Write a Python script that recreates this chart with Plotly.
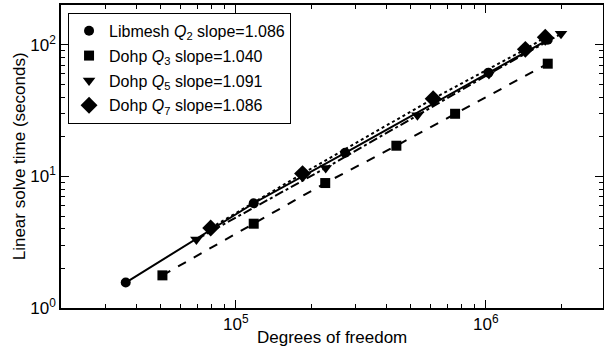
import plotly.graph_objects as go

# Libmesh Q2
lib_x = [3.63e4, 1.18e5, 2.74e5, 1.025e6, 1.77e6]
lib_y = [1.56, 6.25, 15.1, 61.4, 109]
# Dohp Q3
q3_x = [5.09e4, 1.18e5, 2.28e5, 4.39e5, 7.54e5, 1.77e6]
q3_y = [1.77, 4.37, 8.9, 17.1, 29.9, 71.8]
# Dohp Q5
q5_x = [6.96e4, 2.29e5, 5.33e5, 1.03e6, 2.0e6]
q5_y = [3.32, 11.6, 29.1, 60.0, 121]
# Dohp Q7
q7_x = [7.94e4, 1.85e5, 6.16e5, 1.44e6, 1.73e6]
q7_y = [4.05, 10.5, 38.9, 92.3, 114]

names = [
    "Libmesh <i>Q</i><sub>2</sub> slope=1.086",
    "Dohp <i>Q</i><sub>3</sub> slope=1.040",
    "Dohp <i>Q</i><sub>5</sub> slope=1.091",
    "Dohp <i>Q</i><sub>7</sub> slope=1.086",
]

x_tickvals = [1e5, 1e6]
x_ticktext = ["10<sup>5</sup>", "10<sup>6</sup>"]
y_tickvals = [1, 10, 100]
y_ticktext = ["10<sup>0</sup>", "10<sup>1</sup>", "10<sup>2</sup>"]
x_minor = [k * 10 ** e for e in (4, 5, 6) for k in range(2, 10)]
y_minor = [k * 10 ** e for e in (0, 1, 2) for k in range(2, 10)]

series = [
    (lib_x, lib_y, "circle", 10, "solid", 2),
    (q3_x, q3_y, "square", 10, "dash", 2),
    (q5_x, q5_y, "triangle-down", 11, "dashdot", 2),
    (q7_x, q7_y, "diamond", 13, "dot", 2),
]

FONT = "Liberation Sans, Arial, sans-serif"

fig = go.Figure()
for (xs, ys, sym, sz, dash, w), nm in zip(series, names):
    fig.add_trace(go.Scatter(
        x=xs, y=ys, mode="lines+markers", showlegend=False,
        line=dict(color="black", width=w, dash=dash),
        marker=dict(symbol=sym, size=sz, color="black"),
    ))
for (xs, ys, sym, sz, dash, w), nm in zip(series, names):
    fig.add_trace(go.Scatter(
        x=[None], y=[None], mode="markers", name=nm, legendgroup=nm,
        marker=dict(symbol=sym, size=sz, color="black"),
    ))

axis_common = dict(
    type="log", showline=True, linecolor="black", linewidth=1.5,
    mirror="ticks", ticks="inside", ticklen=8, tickwidth=1, tickcolor="black",
    showgrid=False, zeroline=False, tickmode="array", automargin=False,
    tickfont=dict(size=17, color="black", family=FONT),
)

fig.update_xaxes(**axis_common, range=[4.301, 6.469],
                 tickvals=x_tickvals, ticktext=x_ticktext,
                 minor=dict(ticks="inside", ticklen=4, tickcolor="black",
                            showgrid=False, tickvals=x_minor))
fig.update_yaxes(**axis_common, range=[0, 2.302],
                 tickvals=y_tickvals, ticktext=y_ticktext,
                 minor=dict(ticks="inside", ticklen=4, tickcolor="black",
                            showgrid=False, tickvals=y_minor))

fig.add_annotation(text="Degrees of freedom", xref="paper", yref="paper",
                   x=0.5, y=-0.06, xanchor="center", yanchor="top",
                   showarrow=False, font=dict(size=17, color="black", family=FONT))
fig.add_annotation(text="Linear solve time (seconds)", xref="paper", yref="paper",
                   x=-0.076, y=0.5, xanchor="center", yanchor="middle", textangle=-90,
                   showarrow=False, font=dict(size=17, color="black", family=FONT))

fig.update_layout(
    width=604, height=352,
    margin=dict(l=61, r=1, t=5, b=44),
    plot_bgcolor="white", paper_bgcolor="white",
    font=dict(family=FONT, color="black"),
    legend=dict(x=0.013, y=0.974, xanchor="left", yanchor="top",
                bordercolor="black", borderwidth=1, bgcolor="white",
                font=dict(size=16, color="black", family=FONT),
                tracegroupgap=1, itemwidth=30),
    showlegend=True,
)

fig.write_html("out.html", config={"displayModeBar": False},
               post_script="document.body.style.margin='0';document.body.style.padding='0';")
